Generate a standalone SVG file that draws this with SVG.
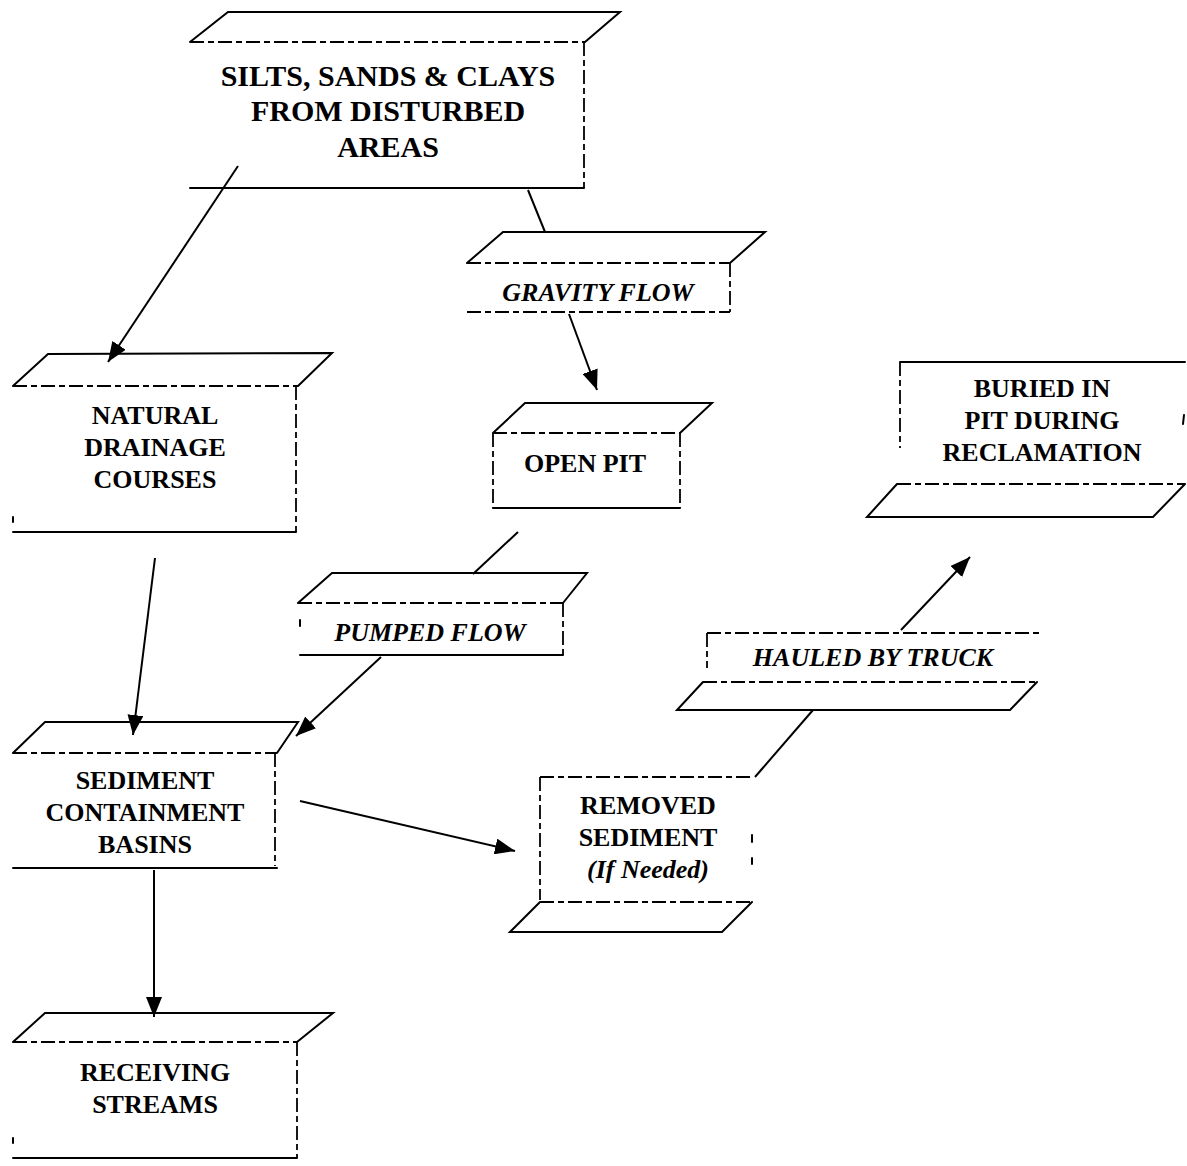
<svg xmlns="http://www.w3.org/2000/svg" width="1187" height="1166" viewBox="0 0 1187 1166">
<style>
.s{stroke:#000;stroke-width:2;fill:none;stroke-linecap:round}
.d{stroke:#000;stroke-width:1.8;fill:none;stroke-dasharray:14 4 6 4}
.t{font-family:"Liberation Serif","Times New Roman",serif;font-weight:bold;font-size:26px;text-anchor:middle;fill:#000}
.i{font-style:italic}
.c{stroke:#000;stroke-width:2;fill:none}
</style>
<defs>
<marker id="ah" markerUnits="userSpaceOnUse" markerWidth="20" markerHeight="16" viewBox="0 0 20 16" refX="20" refY="8" orient="auto">
<path d="M0,0 L20,8 L0,16 z" fill="#000"/>
</marker>
</defs>
<rect width="1187" height="1166" fill="#fff"/>

<g id="n-silts">
<path class="s" d="M190,42 L228,12 L620,12 L585,42"/>
<path class="d" d="M190,42 L585,42"/>
<path class="d" d="M584,42 L584,188"/>
<path class="s" d="M190,188 L584,188"/>
<text class="t" x="388" y="86" style="font-size:30px">SILTS, SANDS &amp; CLAYS</text>
<text class="t" x="388" y="121" style="font-size:30px">FROM DISTURBED</text>
<text class="t" x="388" y="157" style="font-size:30px">AREAS</text>
</g>

<g id="n-gravity">
<path class="s" d="M467,263 L503,232 L765,232 L730,263"/>
<path class="d" d="M467,263 L730,263"/>
<path class="d" d="M730,263 L730,312"/>
<path class="d" d="M467,312 L730,312"/>
<text class="t i" x="598" y="301">GRAVITY FLOW</text>
</g>

<g id="n-natural">
<path class="s" d="M13,386 L48,354 L332,353 L298,386"/>
<path class="d" d="M13,386 L298,386"/>
<path class="d" d="M296,386 L296,532"/>
<path class="s" d="M13,532 L296,532"/>
<path class="s" d="M13,517 L13,522"/>
<text class="t" x="155" y="424">NATURAL</text>
<text class="t" x="155" y="456">DRAINAGE</text>
<text class="t" x="155" y="488">COURSES</text>
</g>

<g id="n-openpit">
<path class="s" d="M493,433 L525,403 L712,403 L680,433"/>
<path class="d" d="M493,433 L680,433"/>
<path class="d" d="M493,433 L493,508"/>
<path class="d" d="M680,433 L680,508"/>
<path class="s" d="M493,508 L680,508"/>
<text class="t" x="585" y="472">OPEN PIT</text>
</g>

<g id="n-buried">
<path class="s" d="M900,362 L1185,362"/>
<path class="d" d="M900,362 L900,448"/>
<path class="s" d="M1184,415 L1183,424"/>
<path class="d" d="M897,484 L1185,484"/>
<path class="s" d="M897,484 L867,517 L1153,517 L1185,484"/>
<text class="t" x="1042" y="397">BURIED IN</text>
<text class="t" x="1042" y="429">PIT DURING</text>
<text class="t" x="1042" y="461">RECLAMATION</text>
</g>

<g id="n-pumped">
<path class="s" d="M298,603 L332,573 L587,573 L563,603"/>
<path class="d" d="M298,603 L563,603"/>
<path class="d" d="M563,603 L563,655"/>
<path class="s" d="M300,655 L563,655"/>
<path class="s" d="M300,620 L300,626"/>
<text class="t i" x="430" y="641">PUMPED FLOW</text>
</g>

<g id="n-hauled">
<path class="d" d="M707,633 L1040,633"/>
<path class="d" d="M707,633 L707,668"/>
<path class="d" d="M703,682 L1037,682"/>
<path class="s" d="M703,682 L677,710 L1010,710 L1037,682"/>
<text class="t i" x="873" y="666">HAULED BY TRUCK</text>
</g>

<g id="n-sediment">
<path class="s" d="M13,753 L45,722 L298,722 L277,753"/>
<path class="d" d="M13,753 L277,753"/>
<path class="d" d="M275,753 L275,866"/>
<path class="s" d="M13,868 L277,868"/>
<text class="t" x="145" y="789">SEDIMENT</text>
<text class="t" x="145" y="821">CONTAINMENT</text>
<text class="t" x="145" y="853">BASINS</text>
</g>

<g id="n-removed">
<path class="d" d="M540,777 L753,777"/>
<path class="d" d="M540,777 L540,900"/>
<path class="s" d="M752,835 L752,842 M752,858 L752,864"/>
<path class="d" d="M540,902 L752,902"/>
<path class="s" d="M540,902 L510,932 L722,932 L752,902"/>
<text class="t" x="648" y="814">REMOVED</text>
<text class="t" x="648" y="846">SEDIMENT</text>
<text class="t i" x="648" y="878">(If Needed)</text>
</g>

<g id="n-receiving">
<path class="s" d="M13,1042 L45,1013 L333,1013 L297,1042"/>
<path class="d" d="M13,1042 L297,1042"/>
<path class="d" d="M297,1042 L297,1158"/>
<path class="s" d="M13,1158 L297,1158"/>
<path class="s" d="M13,1138 L13,1143"/>
<text class="t" x="155" y="1081">RECEIVING</text>
<text class="t" x="155" y="1113">STREAMS</text>
</g>

<g id="connectors">
<path class="c" d="M238,166 L108,362" marker-end="url(#ah)"/>
<path class="c" d="M528,190 L545,232"/>
<path class="c" d="M569,314 L597,390" marker-end="url(#ah)"/>
<path class="c" d="M518,532 L473,574"/>
<path class="c" d="M381,657 L296,736" marker-end="url(#ah)"/>
<path class="c" d="M155,558 L133,735" marker-end="url(#ah)"/>
<path class="c" d="M300,801 L515,851" marker-end="url(#ah)"/>
<path class="c" d="M154,870 L154,1017" marker-end="url(#ah)"/>
<path class="c" d="M755,777 L813,710"/>
<path class="c" d="M901,630 L970,557" marker-end="url(#ah)"/>
</g>
</svg>
